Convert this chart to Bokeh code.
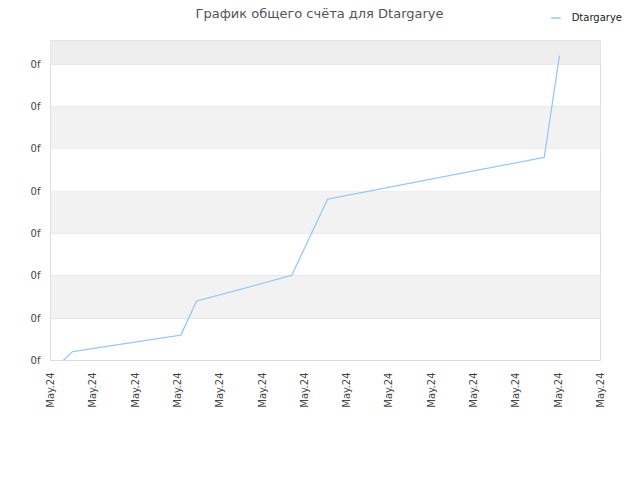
from bokeh.plotting import figure
from bokeh.models import Range1d, BoxAnnotation, FixedTicker, Legend, LegendItem, Label
from bokeh.layouts import column
from bokeh.embed import file_html
from bokeh.resources import INLINE
import math

# data
x_vals = [0.30, 0.52, 3.08, 3.45, 5.70, 6.55, 11.67, 12.03]
y_vals = [0.00, 0.21, 0.60, 1.40, 2.01, 3.81, 4.80, 7.20]
series_name = "Dtargarye"
title_text = "График общего счёта для Dtargarye"
x_ticks = list(range(0, 14))
x_tick_labels = ["May.24"] * 14
y_ticks = list(range(0, 8))
y_tick_labels = ["0f"] * 8
y_top = 7.56

FONT = "DejaVu Sans"
LINE_COLOR = "#99c8f5"
W = 632
HH = 34

# header with title and legend
h = figure(width=W, height=HH, output_backend="svg", toolbar_location=None,
           x_range=Range1d(0, W), y_range=Range1d(0, HH),
           x_axis_location=None, y_axis_location=None, min_border=0)
h.frame_align = False
h.grid.visible = False
h.outline_line_color = None
h.background_fill_color = "white"
h.border_fill_color = "white"
h.add_layout(Label(x=319, y=HH - 13, text=title_text, text_align="center",
                   text_baseline="middle", text_font=FONT, text_font_size="13px",
                   text_color="#555555"))
dummy = h.line(x=[0, 1], y=[-10, -10], line_color=LINE_COLOR, line_width=1.3)
legend = Legend(items=[LegendItem(label=series_name, renderers=[dummy])],
                location="center_right", orientation="horizontal",
                glyph_width=10, glyph_height=10, label_height=10, label_standoff=11,
                padding=0, margin=10, border_line_color=None,
                background_fill_alpha=0, label_text_font=FONT,
                label_text_font_size="10px", label_text_color="#222222")
h.add_layout(legend, "center")

p = figure(width=W, height=472 - HH, output_backend="svg", toolbar_location=None,
           x_range=Range1d(0, 13), y_range=Range1d(0, y_top),
           min_border_left=50, min_border_right=32, min_border_top=40 - HH,
           min_border_bottom=112)
p.frame_align = False
p.background_fill_color = "white"
p.border_fill_color = "white"
p.outline_line_color = "#dddddd"
p.outline_line_width = 1

# alternating bands
for i in range(1, len(y_ticks), 2):
    top = y_ticks[i + 1] if i + 1 < len(y_ticks) else y_top
    p.add_layout(BoxAnnotation(bottom=y_ticks[i], top=top, fill_color="#f2f2f2",
                               fill_alpha=1, line_alpha=0, level="underlay"))
p.add_layout(BoxAnnotation(bottom=y_ticks[-1], top=y_top, fill_color="#eeeeee",
                           fill_alpha=1, line_alpha=0, level="underlay"))

p.xgrid.visible = False
p.ygrid.ticker = FixedTicker(ticks=y_ticks)
p.ygrid.grid_line_color = "#e3e3e3"
p.ygrid.level = "underlay"

p.line(x_vals, y_vals, line_color=LINE_COLOR, line_width=1.3)

p.xaxis.ticker = FixedTicker(ticks=x_ticks)
p.xaxis.major_label_overrides = {t: l for t, l in zip(x_ticks, x_tick_labels)}
p.xaxis.major_label_orientation = math.pi / 2
p.yaxis.ticker = FixedTicker(ticks=y_ticks)
p.yaxis.major_label_overrides = {t: l for t, l in zip(y_ticks, y_tick_labels)}
for ax in (p.xaxis, p.yaxis):
    ax.axis_line_color = None
    ax.major_tick_line_color = None
    ax.minor_tick_line_color = None
    ax.major_tick_out = 0
    ax.major_label_text_font = FONT
    ax.major_label_text_font_size = "10px"
    ax.major_label_text_color = "#444444"
p.xaxis.major_label_standoff = 12
p.yaxis.major_label_standoff = 10

layout = column(h, p, spacing=0)
open("out.html", "w").write(file_html(layout, INLINE))
